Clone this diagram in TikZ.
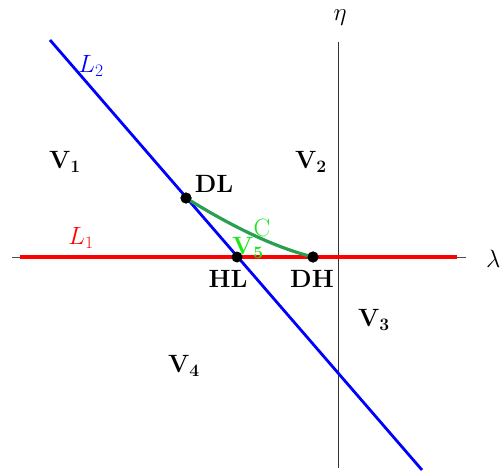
\RequirePackage{fix-cm}
\documentclass[tikz,border=0pt]{standalone}
\usepackage{amsmath}
\definecolor{curvegreen}{RGB}{40,160,80}
\definecolor{labgreen}{RGB}{30,230,30}
\begin{document}
\begin{tikzpicture}[x=1pt,y=-1pt,
  lab/.style={font=\fontsize{25}{29}\selectfont, inner sep=0pt},
  dot/.style={circle, fill=black, inner sep=0pt, minimum size=11pt}]
\useasboundingbox (0,0) rectangle (500,473);
% axes
\coordinate (xa) at (12,257);
\coordinate (xb) at (466,257);
\coordinate (ya) at (338,42);
\coordinate (yb) at (338,468);
\draw[gray!60!black, line width=0.9pt] (xa) -- (xb);
\draw[black!80, line width=0.9pt] (ya) -- (yb);
\node[lab, anchor=west] (lam) at (486,259) {$\lambda$};
\node[lab] (eta) at (340,18) {$\eta$};
% lines
\coordinate (ra) at (20,257);
\coordinate (rb) at (457,257);
\draw[red, line width=3.2pt] (ra) -- (rb);
\coordinate (ba) at (50,40);
\coordinate (bb) at (422,470);
\draw[blue, line width=2.8pt] (ba) -- (bb);
% points
\node[dot] (DL) at (186,198) {};
\node[dot] (HL) at (237,257) {};
\node[dot] (DH) at (313,257) {};
\draw[curvegreen, line width=3.2pt] (DL.center) .. controls (215,216) and (265,245) .. (DH.center);
\node[dot] at (186,198) {};
\node[dot] at (313,257) {};
% labels
\node[lab] (lDL) at (214,184) {$\mathbf{DL}$};
\node[lab] (lHL) at (228,279) {$\mathbf{HL}$};
\node[lab] (lDH) at (312,279) {$\mathbf{DH}$};
\node[lab] (V1) at (65,162) {$\mathbf{V_1}$};
\node[lab] (V2) at (311,162) {$\mathbf{V_2}$};
\node[lab] (V3) at (374,320) {$\mathbf{V_3}$};
\node[lab] (V4) at (184,366) {$\mathbf{V_4}$};
\node[lab, text=labgreen] (V5) at (248,248) {$\mathbf{V_5}$};
\node[lab, text=labgreen] (C) at (262,228) {C};
\node[lab, text=red] (L1) at (81,238) {$L_1$};
\node[lab, text=blue] (L2) at (91,66) {$L_2$};
\end{tikzpicture}
\end{document}
